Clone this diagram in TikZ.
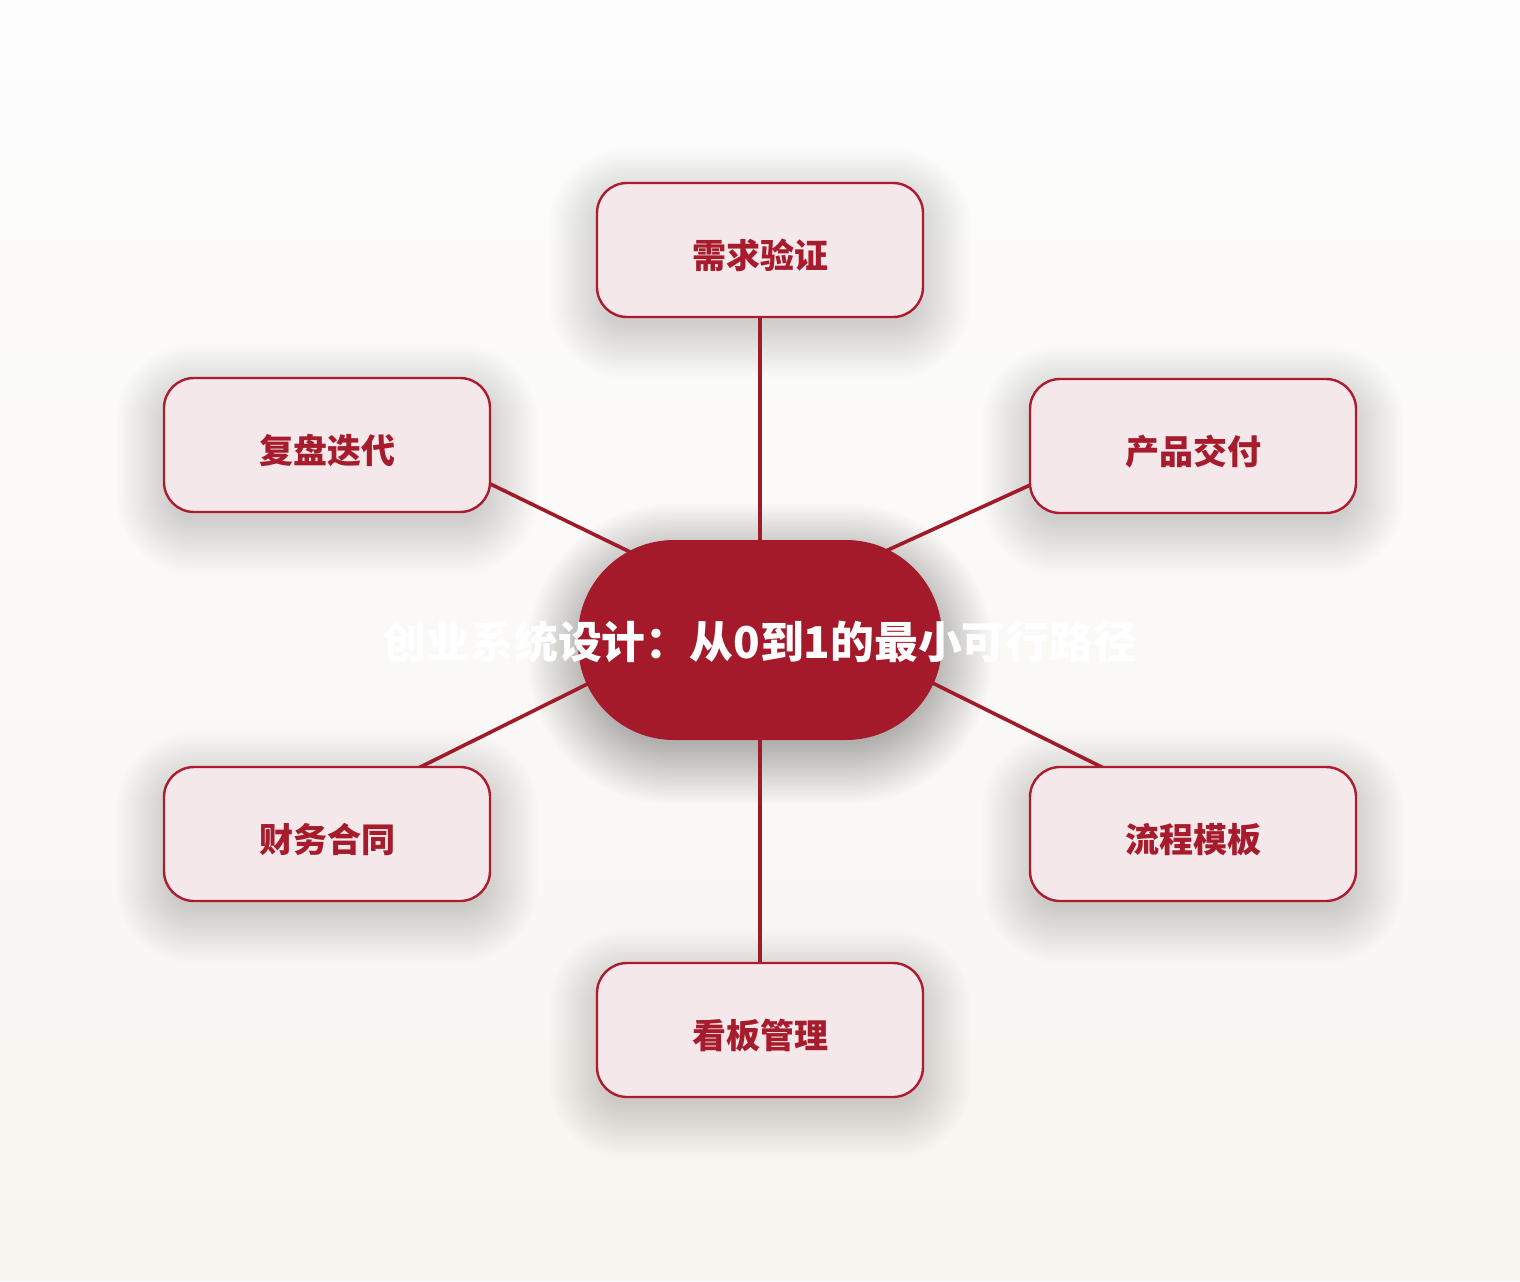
\documentclass[tikz,border=0pt]{standalone}
\usepackage{fontspec}
\usepackage{xcolor}
\usetikzlibrary{calc}
\newfontfamily\cjk{Noto Sans CJK SC}

\definecolor{hubred}{HTML}{A41A2A}
\definecolor{linered}{HTML}{A01A2A}
\definecolor{boxfill}{HTML}{F4E8EA}
\definecolor{boxline}{HTML}{AC1B2E}
\definecolor{boxtext}{HTML}{A61C2C}
\definecolor{bgtop}{HTML}{FDFDFD}
\definecolor{bgbottom}{HTML}{F8F5F0}

\pgfdeclarelayer{bg}
\pgfdeclarelayer{shade}
\pgfdeclarelayer{edges}
\pgfsetlayers{bg,shade,edges,main}

\tikzset{
  topic/.style={draw=boxline, line width=1.2pt, fill=boxfill, rounded corners=15pt,
    minimum width=163pt, minimum height=67pt, text=boxtext, text height=18pt, text depth=0pt,
    font=\cjk\bfseries\fontsize{17pt}{20pt}\selectfont},
  hub/.style={fill=hubred, rounded corners=48pt, minimum width=182pt, minimum height=100pt},
  hubtext/.style={text=white, font=\cjk\bfseries\fontsize{21.9pt}{26pt}\selectfont},
  link/.style={draw=linered, line width=1.8pt},
  softshade/.style={fill=black, opacity=#1},
}

\begin{document}
\begin{tikzpicture}[x=0.5pt,y=0.5pt,yscale=-1,xscale=1]
%Shape: Background (strips)
\begin{pgfonlayer}{bg}
\foreach \k in {0,...,31}{
  \pgfmathsetmacro\pct{100-\k*100/31}
  \fill[bgtop!\pct!bgbottom] (0,\k*40) rectangle (1520,\k*40+41);
}
\end{pgfonlayer}
\useasboundingbox (0,0) rectangle (1520,1280);

%Shape: Hub
\node[hub] (core) at (760,640) {};
% Text Node
\node[hubtext] (coretitle) at (760,642) {创业系统设计：从0到1的最小可行路径};

%Shape: Rounded Rectangles
\node[topic] (demand) at (760,250) {需求验证};
\node[topic] (delivery) at (1193,446) {产品交付};
\node[topic] (process) at (1193,834) {流程模板};
\node[topic] (kanban) at (760,1030) {看板管理};
\node[topic] (finance) at (327,834) {财务合同};
\node[topic] (review) at (327,445) {复盘迭代};

%Shadows
\begin{pgfonlayer}{shade}
\foreach \i in {0,...,23}{
  \pgfmathsetmacro\e{\i*2.6-10}
  \pgfmathsetmacro\rr{max(5,48+\e*0.5)}
  \fill[softshade=0.010, rounded corners=\rr pt] ($(core.south west)+(-\e,\e+14)$) rectangle ($(core.north east)+(\e,-\e+14)$);
}
\foreach \n in {demand,delivery,process,kanban,finance,review}{
  \foreach \i in {0,...,21}{
    \pgfmathsetmacro\e{\i*2.6-8}
    \pgfmathsetmacro\rr{max(4,15+\e*0.5)}
    \fill[softshade=0.0065, rounded corners=\rr pt] ($(\n.south west)+(-\e,\e+14)$) rectangle ($(\n.north east)+(\e,-\e+14)$);
  }
}
\end{pgfonlayer}

%Straight Lines
\begin{pgfonlayer}{edges}
\draw[link] (core) -- (demand);
\draw[link] (core) -- (kanban);
\draw[link] ($(core)+(60,-59)$) -- ($(delivery)+(-73,-2)$);
\draw[link] ($(core)+(80,-3)$) -- ($(process)+(-33,-38)$);
\draw[link] ($(core)+(-80,-2)$) -- ($(finance)+(33,-37)$);
\draw[link] ($(core)+(-60,-54)$) -- ($(review)+(73,-5)$);
\end{pgfonlayer}

\end{tikzpicture}
\end{document}
